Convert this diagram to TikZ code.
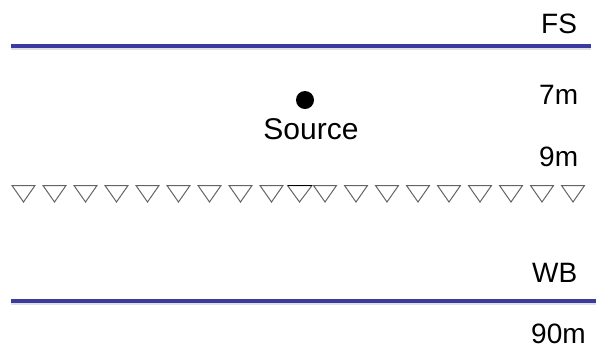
\documentclass[tikz,border=0pt]{standalone}
\usepackage{fontspec}
\setmainfont{Liberation Sans}
\definecolor{layerblue}{RGB}{58,58,160}
\definecolor{trigray}{RGB}{100,100,100}
\begin{document}
\begin{tikzpicture}[x=1pt,y=-1pt,
  lbl/.style={font=\fontsize{28}{33}\selectfont, inner sep=0pt, anchor=base west},
  layer/.style={draw=layerblue, line width=4pt},
  shadow/.style={draw=black!12, line width=2.5pt},
  rcv/.style={draw=trigray, line width=1pt, line join=miter}]
\useasboundingbox (0,0) rectangle (596,349);
% interfaces
\coordinate (fsA) at (11,46);
\coordinate (fsB) at (591,46);
\coordinate (wbA) at (11,301);
\coordinate (wbB) at (596,301);
\draw[shadow] ([yshift=-3pt]fsA) -- ([yshift=-3pt]fsB);
\draw[shadow] ([yshift=-3pt]wbA) -- ([yshift=-3pt]wbB);
\draw[layer] (fsA) -- (fsB);
\draw[layer] (wbA) -- (wbB);
% labels
\node[lbl] (fs) at (541,33) {FS};
\node[lbl] (d7) at (539,104) {7m};
\node[lbl] (d9) at (539,166) {9m};
\node[lbl] (wb) at (532,282) {WB};
\node[lbl] (d90) at (531,343) {90m};
% source
\fill (305,100) circle (9);
\node[lbl, anchor=base, font=\fontsize{30}{35}\selectfont] (src) at (311,139) {Source};
% receivers
\foreach \c in {23.5,54.5,85.5,116.5,147.5,178.5,209.5,240.5,271.5,
                325,356,387,418,449,480,511,542,573}{
  \draw[rcv] (\c-11.5,185.5) -- (\c+11.5,185.5) -- (\c,202) -- cycle;
}
\draw[rcv] (287.5,185.5) -- (312,185.5) -- (299.5,202) -- cycle;
\draw[black, line width=1pt] (287.5,185.5) -- (312,185.5);
\end{tikzpicture}
\end{document}
